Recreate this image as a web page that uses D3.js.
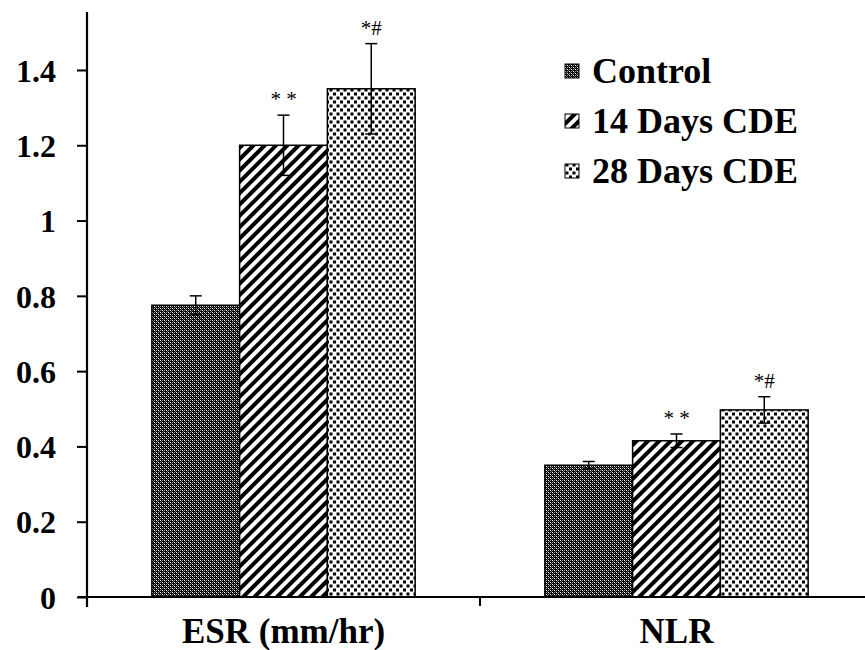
<!DOCTYPE html>
<html>
<head>
<meta charset="utf-8">
<script src="https://cdn.jsdelivr.net/npm/d3@7/dist/d3.min.js"></script>
<style>
  html, body { margin: 0; padding: 0; background: #fff; }
  svg { display: block; }
  text { font-family: "Liberation Serif", "Times New Roman", serif; }
</style>
</head>
<body>
<svg id="chart" width="865" height="650"></svg>
<script>
// Measures and groups
const categories = ["ESR (mm/hr)", "NLR"];
const groups = ["Control", "14 Days CDE", "28 Days CDE"];
// Means for each group, per measure
const controlValues = [0.775, 0.35];
const days14Values = [1.2, 0.415];
const days28Values = [1.35, 0.497];
// Standard errors
const controlErrors = [0.025, 0.01];
const days14Errors = [0.08, 0.018];
const days28Errors = [0.12, 0.035];
// Significance marks above the CDE bars
const controlMarks = ["", ""];
const days14Marks = ["* *", "* *"];
const days28Marks = ["*#", "*#"];
const yTicks = [0, 0.2, 0.4, 0.6, 0.8, 1, 1.2, 1.4];

const seriesValues = [controlValues, days14Values, days28Values];
const seriesErrors = [controlErrors, days14Errors, days28Errors];
const seriesMarks = [controlMarks, days14Marks, days28Marks];
const patternIds = ["pat-control", "pat-14", "pat-28"];

const svg = d3.select("#chart");
const defs = svg.append("defs");

// Control: dark dotted grid
const p0 = defs.append("pattern").attr("id", "pat-control")
  .attr("patternUnits", "userSpaceOnUse").attr("width", 4).attr("height", 4);
p0.append("rect").attr("width", 4).attr("height", 4).attr("fill", "#000");
[[0, 0, "#fff"], [2, 2, "#fff"], [2, 0, "#9a9a9a"], [0, 2, "#9a9a9a"], [1, 1, "#6a6a6a"], [3, 3, "#6a6a6a"]]
  .forEach(([px, py, c]) => p0.append("rect").attr("x", px).attr("y", py)
    .attr("width", 1).attr("height", 1).attr("fill", c));

// 14 days: wide diagonal stripes
const p1 = defs.append("pattern").attr("id", "pat-14")
  .attr("patternUnits", "userSpaceOnUse").attr("width", 8).attr("height", 10)
  .attr("patternTransform", "rotate(45)");
p1.append("rect").attr("width", 8).attr("height", 10).attr("fill", "#fff");
p1.append("rect").attr("width", 4).attr("height", 10).attr("fill", "#000");

// 28 days: small staggered squares
const p2 = defs.append("pattern").attr("id", "pat-28")
  .attr("patternUnits", "userSpaceOnUse").attr("width", 7).attr("height", 8);
p2.append("rect").attr("width", 7).attr("height", 8).attr("fill", "#fff");
p2.append("rect").attr("x", 0.5).attr("y", 0.5).attr("width", 3).attr("height", 3).attr("fill", "#000");
p2.append("rect").attr("x", 4).attr("y", 4.5).attr("width", 3).attr("height", 3).attr("fill", "#000");

// Scales
const y = d3.scaleLinear().domain([0, 1.554]).range([597, 12]);
const x0 = d3.scaleBand().domain(categories).range([87, 873]).paddingInner(0).paddingOuter(0);
const innerWidth = x0.bandwidth() * 0.67;
const x1 = d3.scaleBand().domain(groups).range([0, innerWidth]).padding(0);

// Bars
categories.forEach((cat, ci) => {
  const gx = x0(cat) + (x0.bandwidth() - innerWidth) / 2;
  groups.forEach((grp, gi) => {
    const v = seriesValues[gi][ci];
    const e = seriesErrors[gi][ci];
    const bx = gx + x1(grp);
    svg.append("rect")
      .attr("x", bx).attr("y", y(v))
      .attr("width", x1.bandwidth()).attr("height", y(0) - y(v))
      .attr("fill", `url(#${patternIds[gi]})`)
      .attr("stroke", "#000").attr("stroke-width", 1.5);
    // Error bar
    const cx = bx + x1.bandwidth() / 2;
    const eg = svg.append("g").attr("stroke", "#000").attr("stroke-width", 1.5);
    eg.append("line").attr("x1", cx).attr("x2", cx).attr("y1", y(v + e)).attr("y2", y(v - e));
    eg.append("line").attr("x1", cx - 6).attr("x2", cx + 6).attr("y1", y(v + e)).attr("y2", y(v + e));
    eg.append("line").attr("x1", cx - 6).attr("x2", cx + 6).attr("y1", y(v - e)).attr("y2", y(v - e));
    const m = seriesMarks[gi][ci];
    if (m) {
      svg.append("text")
        .attr("x", cx).attr("y", y(v + e) - 9)
        .attr("text-anchor", "middle")
        .attr("font-size", 21)
        .attr("fill", "#000")
        .text(m);
    }
  });
});

// Y axis
const yAxis = svg.append("g").attr("transform", "translate(87,0)")
  .call(d3.axisLeft(y).tickValues(yTicks).tickSize(10).tickPadding(21).tickFormat(d3.format("~g")));
yAxis.attr("font-family", null).attr("font-size", null);
yAxis.select(".domain").attr("stroke-width", 2.2).attr("d", `M0,${y(0) + 10}V${y.range()[1]}`);
yAxis.selectAll(".tick line").attr("stroke-width", 2);
yAxis.selectAll(".tick text")
  .attr("font-size", 32).attr("font-weight", "bold").attr("fill", "#000")
  .attr("dy", "0.35em");

// X axis with ticks at category boundaries
const xAxis = svg.append("g").attr("transform", `translate(0,${y(0)})`);
xAxis.append("line").attr("x1", 78).attr("x2", 865).attr("y1", 0).attr("y2", 0)
  .attr("stroke", "#000").attr("stroke-width", 2.2);
categories.forEach(cat => {
  xAxis.append("line").attr("x1", x0(cat)).attr("x2", x0(cat)).attr("y1", 0).attr("y2", 9)
    .attr("stroke", "#000").attr("stroke-width", 2);
  xAxis.append("text")
    .attr("x", x0(cat) + x0.bandwidth() / 2).attr("y", 46)
    .attr("text-anchor", "middle")
    .attr("font-size", 35).attr("font-weight", "bold").attr("fill", "#000")
    .text(cat);
});

// Legend
const legend = svg.append("g").attr("transform", "translate(565,71)");
groups.forEach((grp, gi) => {
  const row = legend.append("g").attr("transform", `translate(0,${gi * 50})`);
  row.append("rect").attr("x", 0).attr("y", -7).attr("width", 14).attr("height", 14)
    .attr("fill", `url(#${patternIds[gi]})`).attr("stroke", "#000").attr("stroke-width", 1);
  row.append("text").attr("x", 27).attr("y", 12)
    .attr("font-size", 36).attr("font-weight", "bold").attr("fill", "#000")
    .text(grp);
});
</script>
</body>
</html>
